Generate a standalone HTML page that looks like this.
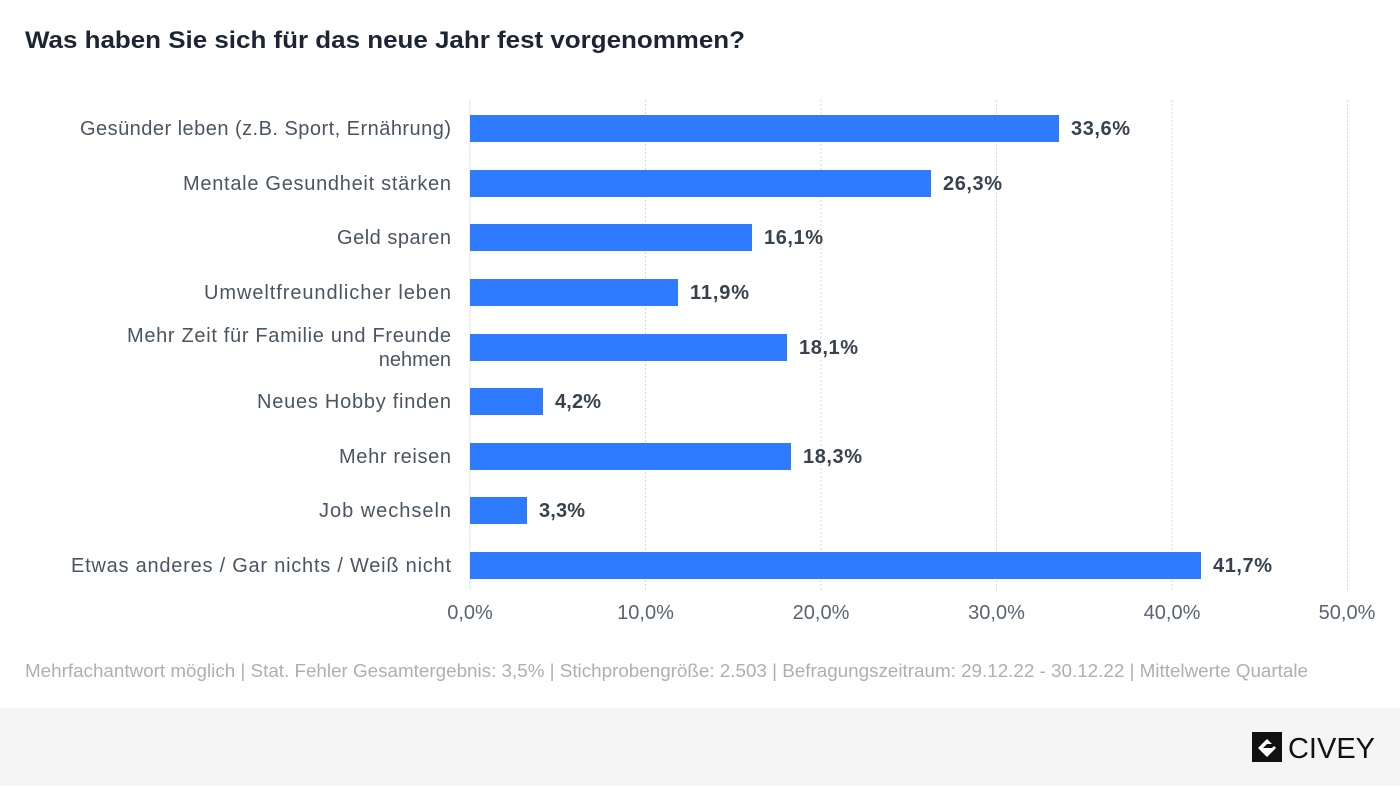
<!DOCTYPE html>
<html><head><meta charset="utf-8"><style>
body{margin:0;width:1400px;height:786px;background:#fff;overflow:hidden;font-family:"Liberation Sans",sans-serif}
</style></head><body>
<svg width="1400" height="786" xmlns="http://www.w3.org/2000/svg" font-family="Liberation Sans, sans-serif">
<rect x="0" y="708" width="1400" height="78" fill="#f5f5f5"/>
<text x="25" y="48" font-size="24" font-weight="bold" fill="#1c2533" textLength="720" lengthAdjust="spacingAndGlyphs">Was haben Sie sich für das neue Jahr fest vorgenommen?</text>
<g stroke="#d8d8d8" stroke-width="1" stroke-dasharray="2,2">
<line x1="645.5" y1="100" x2="645.5" y2="590"/>
<line x1="821" y1="100" x2="821" y2="590"/>
<line x1="996.5" y1="100" x2="996.5" y2="590"/>
<line x1="1172" y1="100" x2="1172" y2="590"/>
<line x1="1347.5" y1="100" x2="1347.5" y2="590"/>
</g>
<line x1="470" y1="100" x2="470" y2="590" stroke="#e0e0e0"/>
<g fill="#2f7bff">
<rect x="470" y="115" width="589" height="27"/>
<rect x="470" y="170" width="461" height="27"/>
<rect x="470" y="224" width="282" height="27"/>
<rect x="470" y="279" width="208" height="27"/>
<rect x="470" y="334" width="317" height="27"/>
<rect x="470" y="388" width="73" height="27"/>
<rect x="470" y="443" width="321" height="27"/>
<rect x="470" y="497" width="57" height="27"/>
<rect x="470" y="552" width="731" height="27"/>
</g>
<g font-size="20" fill="#37424f" font-weight="bold">
<text x="1071" y="135" textLength="59">33,6%</text>
<text x="943" y="190" textLength="59">26,3%</text>
<text x="764" y="244" textLength="59">16,1%</text>
<text x="690" y="299" textLength="59">11,9%</text>
<text x="799" y="354" textLength="59">18,1%</text>
<text x="555" y="408" textLength="46">4,2%</text>
<text x="803" y="463" textLength="59">18,3%</text>
<text x="539" y="517" textLength="46">3,3%</text>
<text x="1213" y="572" textLength="59">41,7%</text>
</g>
<g font-size="20" fill="#4a5563" lengthAdjust="spacingAndGlyphs">
<text x="80" y="135" textLength="371">Gesünder leben (z.B. Sport, Ernährung)</text>
<text x="183" y="190" textLength="268">Mentale Gesundheit stärken</text>
<text x="337" y="244" textLength="114">Geld sparen</text>
<text x="204" y="299" textLength="247">Umweltfreundlicher leben</text>
<text x="127" y="342" textLength="324">Mehr Zeit für Familie und Freunde</text>
<text x="451" y="366" text-anchor="end">nehmen</text>
<text x="257" y="408" textLength="194">Neues Hobby finden</text>
<text x="339" y="463" textLength="112">Mehr reisen</text>
<text x="319" y="517" textLength="132">Job wechseln</text>
<text x="71" y="572" textLength="380">Etwas anderes / Gar nichts / Weiß nicht</text>
</g>
<g font-size="20" fill="#5a6470" text-anchor="middle">
<text x="470" y="619">0,0%</text>
<text x="645.5" y="619">10,0%</text>
<text x="821" y="619">20,0%</text>
<text x="996.5" y="619">30,0%</text>
<text x="1172" y="619">40,0%</text>
<text x="1347" y="619">50,0%</text>
</g>
<text x="25" y="677" font-size="18" fill="#a9b0b8" textLength="1283" lengthAdjust="spacingAndGlyphs">Mehrfachantwort möglich | Stat. Fehler Gesamtergebnis: 3,5% | Stichprobengröße: 2.503 | Befragungszeitraum: 29.12.22 - 30.12.22 | Mittelwerte Quartale</text>
<rect x="1252" y="732" width="30" height="30" fill="#111"/>
<path d="M1258 748 L1267 739 L1276 748 L1267 757 Z" fill="#fff"/>
<path d="M1263 748 L1267 744 L1276 744 L1272 748 Z" fill="#111"/>
<text x="1288" y="758" font-size="29" fill="#111" textLength="87" lengthAdjust="spacingAndGlyphs">CIVEY</text>
</svg>
</body></html>
